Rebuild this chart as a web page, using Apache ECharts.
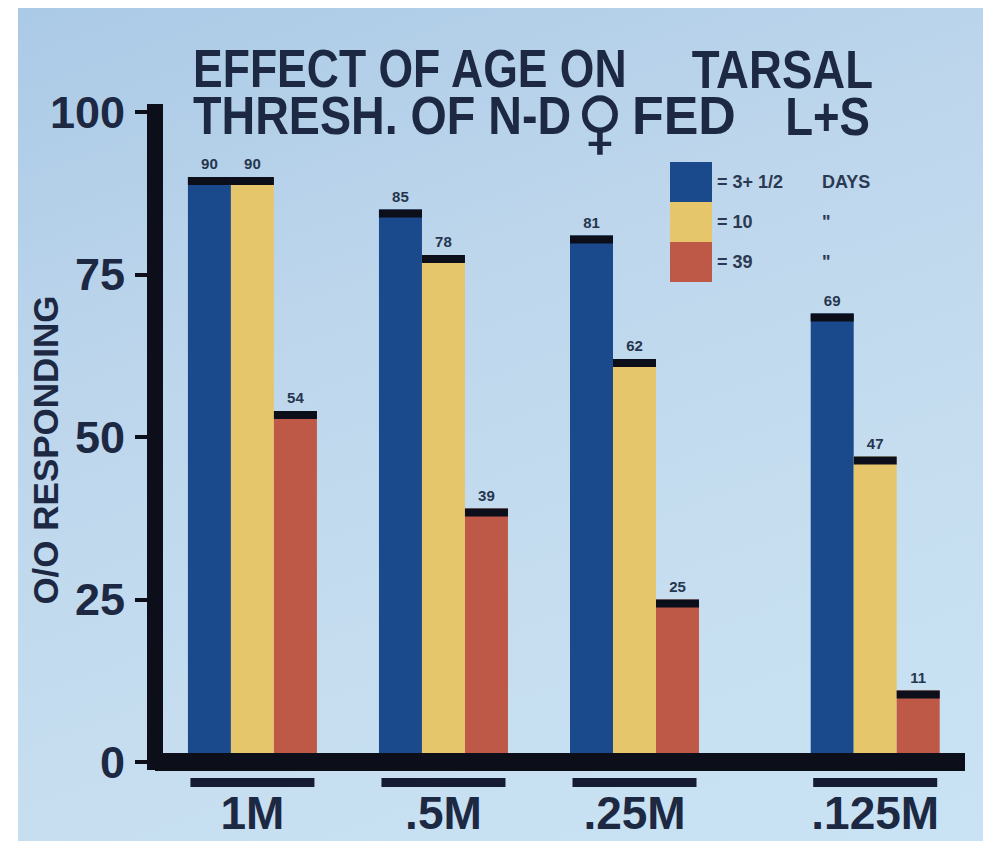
<!DOCTYPE html>
<html>
<head>
<meta charset="utf-8">
<script src="https://cdn.jsdelivr.net/npm/echarts@6/dist/echarts.min.js"></script>
<style>
  html, body { margin: 0; padding: 0; background: #ffffff; }
  #paper {
    position: absolute; left: 18px; top: 8px; width: 965px; height: 833px;
    background: linear-gradient(160deg, #abcae6 0%, #bdd6ec 35%, #c5ddef 65%, #c9e3f5 100%);
  }
  #chart { position: absolute; left: 0; top: 0; width: 983px; height: 841px; }
</style>
</head>
<body>
<div id="paper"></div>
<div id="chart"></div>
<script>
// Concentration groups along the bottom axis
const concentrations = ['1M', '.5M', '.25M', '.125M'];
// Age of the flies (one bar per age in each group)
const ageGroups = ['3+ 1/2 DAYS', '10', '39'];
const legendLabels = ['3+ 1/2', '10', '39'];
const legendUnits = ['DAYS', '"', '"'];
// % responding, one row per age group, one column per concentration
const days3half = [90, 85, 81, 69];
const days10 = [90, 78, 62, 47];
const days39 = [54, 39, 25, 11];
const responding = [days3half, days10, days39];
// Y axis ticks
const yTicks = [0, 25, 50, 75, 100];

// Layout: slot of each group on the horizontal axis (.125M sits a little apart)
const groupSlots = [0, 1, 2, 3.26];
const BAR_W = 43;
const CAP_H = 8;
const INK = '#0c0e1a';
const TEXT = '#1d2843';
const barColors = ['#1b4a8c', '#e5c66b', '#bd5946'];
const SANS = '"Liberation Sans", Arial, sans-serif';
const TITLE_FONT = 'bold 53px ' + SANS;

const chart = echarts.init(document.getElementById('chart'), null, { renderer: 'svg' });

const barSeries = ageGroups.map((name, s) => ({
  type: 'bar',
  name: name,
  data: responding[s].map((v, i) => [groupSlots[i], v]),
  barWidth: BAR_W,
  barGap: '0%',
  itemStyle: { color: barColors[s] },
  label: {
    show: true,
    position: 'top',
    distance: 6,
    formatter: p => p.value[1],
    color: '#26364f',
    fontSize: 15,
    fontWeight: 'bold',
    fontFamily: SANS
  },
  z: 2
}));

// Black cap sitting on top of every bar
const capData = [];
responding.forEach((row, s) => row.forEach((v, i) => capData.push([groupSlots[i], v, s])));
const capSeries = {
  type: 'custom',
  name: 'caps',
  silent: true,
  data: capData,
  renderItem: (params, api) => {
    const p = api.coord([api.value(0), api.value(1)]);
    const s = api.value(2);
    const x = p[0] + (s - 1) * BAR_W - BAR_W / 2;
    return {
      type: 'rect',
      shape: { x: x, y: p[1], width: BAR_W, height: CAP_H },
      style: { fill: INK }
    };
  },
  z: 3
};

// Heading lettering, condensed horizontally
function heading(text, x, y, squeeze, align) {
  return {
    type: 'text', x: x, y: y, scaleX: squeeze,
    style: { text: text, font: TITLE_FONT, fill: TEXT, align: align || 'left', verticalAlign: 'middle' }
  };
}

const option = {
  backgroundColor: 'transparent',
  animation: false,
  grid: { left: 155, right: 18, top: 112, bottom: 79, containLabel: false, outerBoundsMode: 'none' },
  xAxis: {
    type: 'value',
    min: -0.51,
    max: 3.73,
    z: 5,
    splitLine: { show: false },
    axisTick: { show: false },
    axisLine: { show: true, onZero: true, lineStyle: { color: INK, width: 18, cap: 'butt' } },
    axisLabel: {
      customValues: groupSlots,
      margin: 16,
      formatter: v => '{u| }\n{n|' + concentrations[groupSlots.indexOf(v)] + '}',
      rich: {
        u: { width: 124, height: 9, lineHeight: 9, backgroundColor: '#151b32' },
        n: { fontSize: 46, lineHeight: 52, fontWeight: 'bold', fontFamily: SANS, color: TEXT }
      }
    }
  },
  yAxis: {
    type: 'value',
    min: yTicks[0],
    max: yTicks[yTicks.length - 1],
    interval: yTicks[1] - yTicks[0],
    name: 'O/O RESPONDING',
    nameLocation: 'middle',
    nameGap: 92,
    nameMoveOverlap: false,
    nameTextStyle: { fontSize: 35, fontWeight: 'bold', fontFamily: SANS, color: TEXT, padding: [0, 26, 0, 0] },
    splitLine: { show: false },
    axisLine: { show: true, onZero: false, lineStyle: { color: INK, width: 16, cap: 'square' } },
    axisTick: { show: true, length: 20, lineStyle: { color: INK, width: 4 } },
    axisLabel: { margin: 30, fontSize: 45, fontWeight: 'bold', fontFamily: SANS, color: TEXT }
  },
  legend: {
    data: ageGroups,
    orient: 'vertical',
    left: 670,
    top: 162,
    padding: 0,
    itemWidth: 42,
    itemHeight: 40,
    itemGap: 0,
    icon: 'rect',
    selectedMode: false,
    itemStyle: { borderWidth: 0 },
    formatter: name => {
      const i = ageGroups.indexOf(name);
      return '{t|= ' + legendLabels[i] + '}{d|' + legendUnits[i] + '}';
    },
    textStyle: {
      rich: {
        t: { width: 105, fontSize: 18, fontWeight: 'bold', fontFamily: SANS, color: '#2b3a52' },
        d: { fontSize: 18, fontWeight: 'bold', fontFamily: SANS, color: '#2b3a52' }
      }
    }
  },
  graphic: [
    heading('EFFECT OF AGE ON', 193, 69, 0.84),
    heading('TARSAL', 873, 69, 0.86, 'right'),
    heading('THRESH. OF N-D', 193, 116, 0.88),
    heading('FED', 632, 116, 0.98),
    heading('L+S', 870, 116, 0.86, 'right'),
    { type: 'text', x: 600, y: 88, scaleY: 1.08,
      style: { text: '\u2640', font: 'bold 64px "DejaVu Sans"', fill: TEXT, align: 'center', verticalAlign: 'top' } }
  ],
  series: [...barSeries, capSeries]
};

chart.setOption(option);
</script>
</body>
</html>
